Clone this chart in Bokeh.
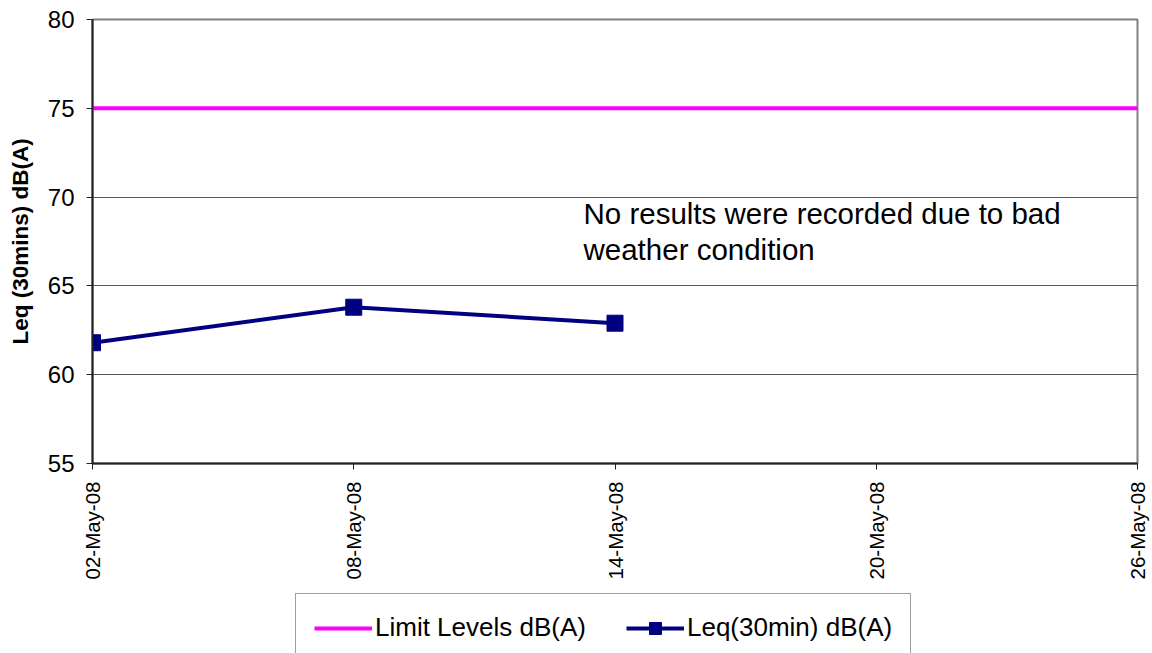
import pandas as pd
from bokeh.plotting import figure
from bokeh.layouts import column
from bokeh.models import (Range1d, FixedTicker, DatetimeTickFormatter, Legend,
                          LegendItem, Label)
from bokeh.embed import file_html
from bokeh.resources import INLINE

# ---- data ----
leq_dates = ["2008-05-02", "2008-05-08", "2008-05-14"]
leq_values = [61.8, 63.8, 62.9]
limit_dates = ["2008-05-02", "2008-05-26"]
limit_values = [75, 75]
x_tick_dates = ["2008-05-02", "2008-05-08", "2008-05-14", "2008-05-20", "2008-05-26"]
y_ticks = [55, 60, 65, 70, 75, 80]
note_lines = ["No results were recorded due to bad", "weather condition"]
y_title = "Leq (30mins) dB(A)"
limit_label = "Limit Levels dB(A)"
leq_label = "Leq(30min) dB(A)"

FONT = "Liberation Sans"
LIMIT_COLOR = "#FF00FF"
LEQ_COLOR = "#000080"

def to_ts(lst):
    return [pd.Timestamp(d) for d in lst]

x_ticks_ms = [pd.Timestamp(d).value // 10**6 for d in x_tick_dates]
x_start = pd.Timestamp(x_tick_dates[0])
x_end = pd.Timestamp(x_tick_dates[-1])

p = figure(width=1152, height=590, x_axis_type="datetime",
           output_backend="svg", toolbar_location=None,
           min_border_left=92, min_border_right=15,
           min_border_top=19, min_border_bottom=127)
p.x_range = Range1d(x_start, x_end)
p.y_range = Range1d(y_ticks[0], y_ticks[-1])

p.background_fill_color = "white"
p.border_fill_color = "white"
p.outline_line_color = "#808080"
p.outline_line_width = 2

# grid
p.xgrid.visible = False
p.ygrid.ticker = FixedTicker(ticks=y_ticks)
p.ygrid.grid_line_color = "#555555"
p.ygrid.grid_line_width = 1

# axes
p.yaxis.ticker = FixedTicker(ticks=y_ticks)
p.xaxis.ticker = FixedTicker(ticks=x_ticks_ms)
fmt = "%d-%b-%y"
p.xaxis.formatter = DatetimeTickFormatter(
    milliseconds=fmt, seconds=fmt, minsec=fmt, minutes=fmt, hourmin=fmt,
    hours=fmt, days=fmt, months=fmt, years=fmt)
p.xaxis.major_label_orientation = 3.14159265 / 2

for ax in (p.xaxis[0], p.yaxis[0]):
    ax.axis_line_color = "#222222"
    ax.axis_line_width = 2
    ax.major_tick_line_color = "#222222"
    ax.major_tick_line_width = 1
    ax.major_tick_in = 0
    ax.major_tick_out = 6
    ax.minor_tick_line_color = None
    ax.major_label_text_font = FONT
    ax.major_label_text_color = "black"

p.xaxis.major_label_text_font_size = "20.5px"
p.xaxis.major_label_standoff = 12
p.yaxis.major_label_text_font_size = "24px"
p.yaxis.major_label_standoff = 12

p.yaxis.axis_label = y_title
p.yaxis.axis_label_text_font = FONT
p.yaxis.axis_label_text_font_size = "22.5px"
p.yaxis.axis_label_text_font_style = "bold"
p.yaxis.axis_label_text_color = "black"
p.yaxis.axis_label_standoff = 12

# series
p.line(to_ts(limit_dates), limit_values, line_color=LIMIT_COLOR, line_width=4)
p.line(to_ts(leq_dates), leq_values, line_color=LEQ_COLOR, line_width=4)
p.scatter(to_ts(leq_dates), leq_values, marker="square", size=16,
          fill_color=LEQ_COLOR, line_color=LEQ_COLOR)

# note text
for i, t in enumerate(note_lines):
    p.add_layout(Label(x=491, y=250 - 36 * i, x_units="screen", y_units="screen",
                       text=t, text_font=FONT, text_font_size="29.5px",
                       text_color="black", text_baseline="alphabetic"))

# legend strip below the chart (its series lie outside its 0..1 range, so only
# the legend itself shows)
lg = figure(width=1152, height=63, x_axis_type="datetime", output_backend="svg",
            toolbar_location=None, x_axis_location=None, y_axis_location=None,
            min_border=0, x_range=Range1d(x_start, x_end), y_range=Range1d(0, 1))
lg.grid.visible = False
lg.outline_line_color = None
lg.background_fill_color = "white"
lg.border_fill_color = "white"
k_limit = lg.line(to_ts(limit_dates), limit_values, line_color=LIMIT_COLOR, line_width=4)
k_leq_line = lg.line(to_ts(leq_dates), leq_values, line_color=LEQ_COLOR, line_width=4)
k_leq_pts = lg.scatter(to_ts(leq_dates), leq_values, marker="square", size=14,
                       fill_color=LEQ_COLOR, line_color=LEQ_COLOR)

legend = Legend(items=[LegendItem(label=limit_label, renderers=[k_limit]),
                       LegendItem(label=leq_label, renderers=[k_leq_line, k_leq_pts])],
                location=(203, -9), orientation="horizontal",
                label_text_font=FONT, label_text_font_size="26px",
                label_text_color="black",
                glyph_width=58, glyph_height=30, label_height=30,
                label_standoff=3, spacing=40, padding=18, margin=0,
                border_line_color="#404040", border_line_width=1.5,
                background_fill_color="white", background_fill_alpha=1)
lg.add_layout(legend, "center")

layout = column(p, lg, spacing=0)
open("out.html", "w").write(file_html(layout, INLINE))
